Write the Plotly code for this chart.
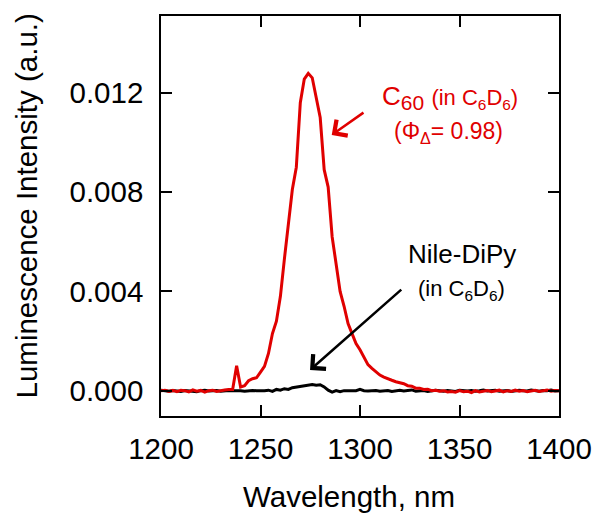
import plotly.graph_objects as go

# Wavelength grid (nm), 2 nm steps
wavelength = list(range(1200, 1401, 2))

# Luminescence intensity, in units of 1e-3 a.u.
c60_milli = [
    0.00, 0.02, -0.03, 0.01, -0.04, 0.02, 0.00, -0.05, 0.03, -0.02,   # 1200-1218
    0.01, -0.06, 0.00, 0.02, -0.03, 0.01, 0.03, 0.05, 0.05, 1.00,     # 1220-1238
    0.15, 0.20, 0.40, 0.48, 0.52, 0.75, 0.98, 1.50, 2.30, 2.80,       # 1240-1258
    3.80, 5.30, 6.70, 8.10, 9.00, 11.60, 12.55, 12.78, 12.60, 11.75,  # 1260-1278
    11.00, 8.90, 8.20, 6.20, 5.00, 4.00, 3.40, 2.70, 2.30, 1.90,      # 1280-1298
    1.65, 1.35, 1.05, 0.90, 0.75, 0.63, 0.55, 0.47, 0.42, 0.36,       # 1300-1318
    0.32, 0.28, 0.20, 0.18, 0.10, 0.10, 0.05, 0.06, 0.00, 0.02,       # 1320-1338
    -0.02, 0.00, -0.05, -0.03, -0.06, 0.00, -0.04, -0.02, -0.08, 0.00, # 1340-1358
    -0.05, -0.03, 0.01, -0.04, -0.02, 0.02, -0.05, 0.00, -0.03, 0.02,  # 1360-1378
    -0.02, 0.01, -0.04, 0.00, 0.02, -0.03, 0.00, 0.03, -0.02, 0.01,    # 1380-1398
    0.00,                                                              # 1400
]

nile_milli = [
    0.02, 0.00, -0.02, 0.01, 0.00, -0.03, 0.01, -0.01, 0.00, -0.04,   # 1200-1218
    0.00, 0.02, -0.01, 0.00, 0.01, -0.02, 0.00, 0.01, 0.00, 0.01,     # 1220-1238
    0.00, -0.02, 0.00, 0.01, 0.00, -0.01, 0.00, 0.02, -0.03, 0.05,    # 1240-1258
    0.02, 0.08, 0.05, 0.12, 0.15, 0.18, 0.20, 0.23, 0.25, 0.22,       # 1260-1278
    0.24, 0.15, 0.02, -0.06, 0.00, -0.04, 0.00, 0.00, -0.01, 0.00,    # 1280-1298
    0.05, 0.00, -0.01, 0.00, 0.01, -0.02, 0.00, 0.01, -0.03, 0.00,    # 1300-1318
    0.02, -0.01, 0.00, 0.03, -0.02, 0.00, 0.01, -0.03, 0.00, 0.02,    # 1320-1338
    0.00, -0.02, 0.01, 0.00, -0.03, 0.02, 0.00, -0.01, 0.01, -0.02,   # 1340-1358
    0.00, 0.03, -0.01, 0.00, 0.02, -0.02, 0.00, 0.01, -0.03, 0.00,    # 1360-1378
    0.02, 0.00, -0.01, 0.03, 0.00, -0.02, 0.01, 0.00, 0.03, -0.01,    # 1380-1398
    0.00,                                                             # 1400
]

c60 = [v * 1e-3 for v in c60_milli]
nile = [v * 1e-3 for v in nile_milli]

x_ticks = [1200, 1250, 1300, 1350, 1400]
y_ticks = [0.000, 0.004, 0.008, 0.012]

RED = "#e00000"
FONT = "Arial, Liberation Sans, sans-serif"
AXIS_FONT_SIZE = 29.5

fig = go.Figure()
fig.add_trace(go.Scatter(x=wavelength, y=nile, mode="lines",
                         line=dict(color="black", width=3), name="Nile-DiPy"))
fig.add_trace(go.Scatter(x=wavelength, y=c60, mode="lines",
                         line=dict(color=RED, width=3), name="C60"))

axis_common = dict(
    showline=True, linecolor="black", linewidth=1.5, mirror="allticks",
    ticks="inside", ticklen=11, tickwidth=1.5, tickcolor="black",
    showgrid=False, zeroline=False, automargin=False,
    tickfont=dict(family=FONT, size=AXIS_FONT_SIZE, color="black"),
)

fig.update_xaxes(range=[1200, 1400], tickvals=x_ticks, ticklabelstandoff=6, **axis_common)
fig.update_yaxes(range=[-0.00102, 0.01509], tickvals=y_ticks, tickformat=".3f",
                 ticklabelstandoff=10, **axis_common)

annotations = [
    # axis titles
    dict(text="Wavelength, nm", xref="paper", yref="paper", x=(349 - 161) / 398, y=-0.2,
         xanchor="center", yanchor="middle", showarrow=False,
         font=dict(family=FONT, size=AXIS_FONT_SIZE, color="black")),
    dict(text="Luminescence Intensity (a.u.)", xref="paper", yref="paper",
         x=(26 - 161) / 398, y=(416 - 206.5) / 400, textangle=-90,
         xanchor="center", yanchor="middle", showarrow=False,
         font=dict(family=FONT, size=AXIS_FONT_SIZE, color="black")),
    # C60 label
    dict(text="C<sub><span style='font-size:21px'>60</span></sub> "
              "<span style='font-size:22px'>(in C<sub>6</sub>D<sub>6</sub>)</span>",
         x=1345.2, y=0.01179, xref="x", yref="y", xanchor="center", yanchor="middle",
         showarrow=False, font=dict(family=FONT, size=26, color=RED)),
    dict(text="(Φ<sub>Δ</sub>= 0.98)",
         x=1344.7, y=0.0104, xref="x", yref="y", xanchor="center", yanchor="middle",
         showarrow=False, font=dict(family=FONT, size=23, color=RED)),
    # Nile-DiPy label
    dict(text="Nile-DiPy", x=1351.5, y=0.0055, xref="x", yref="y",
         xanchor="center", yanchor="middle", showarrow=False,
         font=dict(family=FONT, size=26, color="black")),
    dict(text="(in C<sub>6</sub>D<sub>6</sub>)", x=1351, y=0.00406, xref="x", yref="y",
         xanchor="center", yanchor="middle", showarrow=False,
         font=dict(family=FONT, size=22, color="black")),
    # arrows
    dict(text="", x=1285.8, y=0.01030, ax=1302.5, ay=0.01124, xref="x", yref="y",
         axref="x", ayref="y", showarrow=True, arrowhead=4, arrowsize=1.5,
         arrowwidth=2.5, arrowcolor=RED, standoff=0, startstandoff=0),
    dict(text="", x=1274.9, y=0.000834, ax=1321.5, ay=0.004125, xref="x", yref="y",
         axref="x", ayref="y", showarrow=True, arrowhead=4, arrowsize=1.5,
         arrowwidth=2.5, arrowcolor="black", standoff=0, startstandoff=0),
]

fig.update_layout(
    width=595, height=517,
    margin=dict(l=161, r=36, t=16, b=101),
    paper_bgcolor="white", plot_bgcolor="white",
    showlegend=False,
    annotations=annotations,
    font=dict(family=FONT),
)

fig.write_html("out.html")
